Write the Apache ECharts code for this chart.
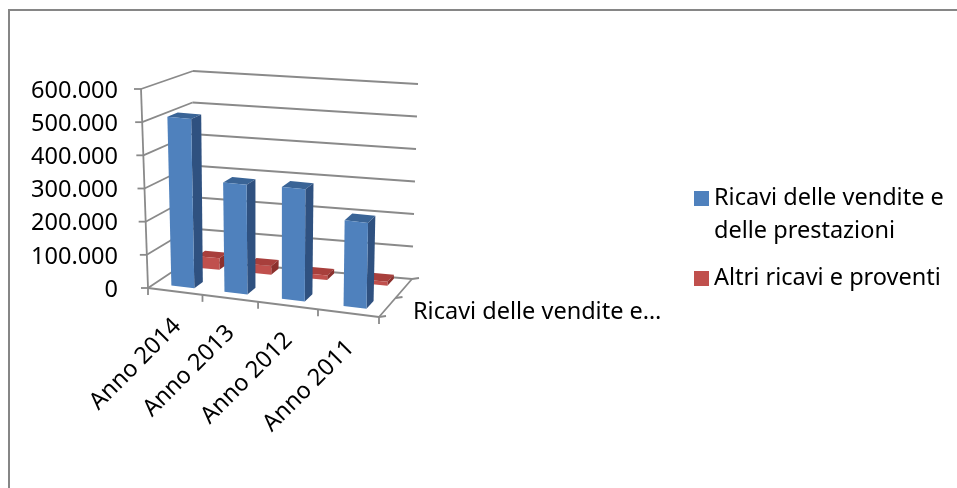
<!DOCTYPE html>
<html>
<head>
<meta charset="utf-8">
<style>
  html, body { margin: 0; padding: 0; background: #fff; }
  #chart { width: 957px; height: 488px; }
</style>
<script src="https://cdn.jsdelivr.net/npm/echarts@6/dist/echarts.min.js"></script>
</head>
<body>
<div id="chart"></div>
<script>
const categories = ["Anno 2014", "Anno 2013", "Anno 2012", "Anno 2011"];
const ricaviVendite = [512000, 330000, 335000, 255000];
const altriRicavi = [36000, 27000, 14000, 12000];
const yTicks = [0, 100000, 200000, 300000, 400000, 500000, 600000];
const depthLabel = "Ricavi delle vendite e…";
const nameVendite = "Ricavi delle vendite e\ndelle prestazioni";
const nameAltri = "Altri ricavi e proventi";

const FONT = '"Noto Sans", sans-serif';
const FONT_SIZE = 23.5;
const LINE = "#8a8a8a";

// angoli del box 3D: front/back, left/right, bottom/top
const box = {
  flb: [148, 288], flt: [141, 89], frb: [379, 317], frt: [383, 113],
  blb: [190, 260], blt: [193, 71], brb: [412, 279], brt: [418, 84],
};
const mix = (a, b, t) => [a[0] + (b[0] - a[0]) * t, a[1] + (b[1] - a[1]) * t];

// u = lungo le categorie, v = altezza, d = profondita
const project = (u, v, d) => {
  const front = mix(mix(box.flb, box.frb, u), mix(box.flt, box.frt, u), v);
  const back = mix(mix(box.blb, box.brb, u), mix(box.blt, box.brt, u), v);
  return mix(front, back, d);
};
// la prospettiva allarga un po' le categorie verso destra
const warp = (u) => Math.min(1, u * (0.85 + 0.15 * u) + 0.014);

const segment = (a, b, width) => ({
  type: "line",
  shape: { x1: a[0], y1: a[1], x2: b[0], y2: b[1] },
  style: { stroke: LINE, lineWidth: width || 1.8 },
});
const poly = (points, fill) => ({
  type: "polygon",
  shape: { points },
  style: { fill },
});

const uvOf = (api, params, cat, val) => {
  const cs = params.coordSys;
  const pt = api.coord([cat, val]);
  return [(pt[0] - cs.x) / cs.width, (cs.y + cs.height - pt[1]) / cs.height];
};

const renderWall = (params, api) => {
  const v = uvOf(api, params, 0, api.value(1))[1];
  const f = project(0, v, 0);
  const children = [
    segment([f[0] - 7, f[1]], f),
    segment(f, project(0, v, 1)),
    segment(project(0, v, 1), project(1, v, 1)),
  ];
  if (api.value(1) === 0) {
    children.push(segment(project(0, 0, 0), project(0, 1, 0)));
    children.push(segment(project(0, 0, 0), project(1, 0, 0)));
    children.push(segment(project(1, 0, 0), project(1, 0, 1)));
    [0, 0.5, 1].forEach((d) => {
      const p = project(1, 0, d);
      children.push(segment(p, [p[0] + 7, p[1] - 1]));
    });
    const p0 = project(0, 0, 0);
    children.push(segment(p0, [p0[0], p0[1] + 7]));
  }
  return { type: "group", children };
};

const renderCategory = (params, api) => {
  const i = api.value(0);
  const u = uvOf(api, params, i, 0)[0];
  const band = api.size([1, 0])[0] / params.coordSys.width;
  const edge = project(warp(u + band / 2), 0, 0);
  const mid = project(warp(u), 0, 0);
  return {
    type: "group",
    children: [
      segment(edge, [edge[0], edge[1] + 7]),
      {
        type: "text",
        x: mid[0] + 1,
        y: mid[1] + 31,
        rotation: Math.PI / 4,
        style: {
          text: categories[i],
          font: `${FONT_SIZE}px ${FONT}`,
          fill: "#000",
          align: "right",
          verticalAlign: "middle",
        },
      },
    ],
  };
};

const makeBars = (d0, d1, colors) => (params, api) => {
  const uv = uvOf(api, params, api.value(0), api.value(1));
  const uc = warp(uv[0]);
  const u0 = uc - 0.05;
  const u1 = uc + 0.05;
  const v = uv[1];
  return {
    type: "group",
    children: [
      poly([project(u0, v, d0), project(u1, v, d0), project(u1, v, d1), project(u0, v, d1)], colors.top),
      poly([project(u1, 0, d0), project(u1, v, d0), project(u1, v, d1), project(u1, 0, d1)], colors.side),
      poly([project(u0, 0, d0), project(u1, 0, d0), project(u1, v, d0), project(u0, v, d0)], colors.front),
    ],
  };
};

const legendBase = {
  left: 694,
  padding: 0,
  orient: "vertical",
  icon: "rect",
  itemWidth: 15,
  itemHeight: 15,
  itemStyle: { borderWidth: 0 },
  textStyle: { color: "#000", fontFamily: FONT, fontSize: FONT_SIZE, lineHeight: 33 },
};

const chart = echarts.init(document.getElementById("chart"));
chart.setOption({
  animation: false,
  tooltip: { show: false },
  // il grid da solo la scala: le posizioni reali passano da project()
  grid: { left: 120, top: 91, width: 231, height: 199 },
  xAxis: {
    type: "category",
    data: categories,
    axisLine: { show: false },
    axisTick: { show: false },
    axisLabel: { show: false },
    splitLine: { show: false },
  },
  yAxis: {
    type: "value",
    min: 0,
    max: 600000,
    interval: 100000,
    axisLine: { show: false },
    axisTick: { show: false },
    splitLine: { show: false },
    axisLabel: {
      margin: 2,
      color: "#000",
      fontFamily: FONT,
      fontSize: FONT_SIZE,
      formatter: (val) => val.toLocaleString("de-DE"),
    },
  },
  // due legende: il testo su due righe va allineato al quadratino con la prima riga
  legend: [
    {
      ...legendBase,
      top: 149,
      data: [nameVendite],
      formatter: (name) => "\n" + name,
    },
    {
      ...legendBase,
      top: 262,
      data: [nameAltri],
    },
  ],
  graphic: [
    {
      type: "polyline",
      shape: { points: [[9, 488], [9, 10], [957, 10]] },
      style: { stroke: "#868686", lineWidth: 2, fill: null },
    },
    {
      type: "text",
      x: 413,
      y: 312,
      style: {
        text: depthLabel,
        font: `${FONT_SIZE}px ${FONT}`,
        fill: "#000",
        verticalAlign: "middle",
      },
    },
  ],
  series: [
    {
      type: "custom",
      name: "pareti",
      z: 1,
      silent: true,
      renderItem: renderWall,
      data: yTicks.map((v) => [0, v]),
    },
    {
      type: "custom",
      name: "categorie",
      z: 1,
      silent: true,
      renderItem: renderCategory,
      data: categories.map((c, i) => [i, 0]),
    },
    {
      type: "custom",
      name: nameAltri,
      z: 2,
      itemStyle: { color: "#C0504D" },
      renderItem: makeBars(0.78, 0.97, { front: "#C0504D", side: "#8C302D", top: "#A83F3C" }),
      data: altriRicavi.map((v, i) => [i, v]),
    },
    {
      type: "custom",
      name: nameVendite,
      z: 3,
      itemStyle: { color: "#4F81BD" },
      renderItem: makeBars(0.16, 0.37, { front: "#4F81BD", side: "#2F5180", top: "#3A6496" }),
      data: ricaviVendite.map((v, i) => [i, v]),
    },
  ],
});
</script>
</body>
</html>
